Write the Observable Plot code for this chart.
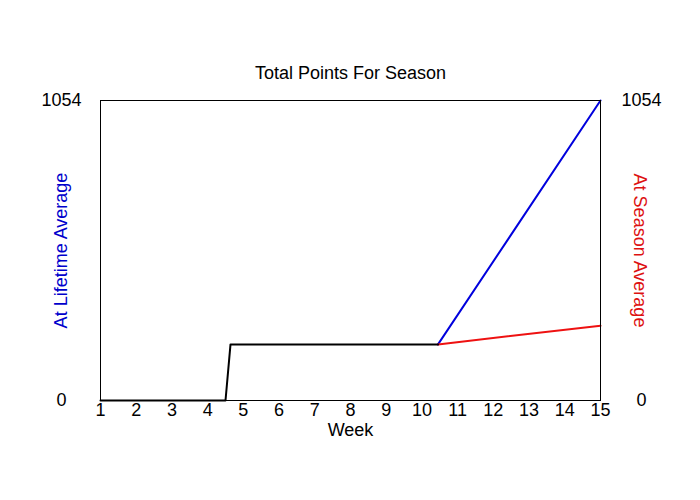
<!DOCTYPE html>
<html>
<head>
<meta charset="utf-8">
<script src="https://cdn.jsdelivr.net/npm/d3@7"></script>
<script src="https://cdn.jsdelivr.net/npm/@observablehq/plot@0.6"></script>
<style>
  html, body { margin: 0; padding: 0; background: white; }
</style>
</head>
<body>
<div id="chart"></div>
<script>
const weeks = [1,2,3,4,5,6,7,8,9,10,11,12,13,14,15];
const yTicks = [0, 1054];
const baseWeek = [1, 4.5, 4.64, 10.45];
const baseTotal = [0, 0, 197, 197];
const lifetimeWeek = [10.45, 15];
const lifetimeTotal = [197, 1054];
const seasonWeek = [10.45, 15];
const seasonTotal = [197, 263];

const base = baseWeek.map((w, i) => ({week: w, total: baseTotal[i]}));
const lifetime = lifetimeWeek.map((w, i) => ({week: w, total: lifetimeTotal[i]}));
const season = seasonWeek.map((w, i) => ({week: w, total: seasonTotal[i]}));

const font = "'Liberation Sans', Arial, sans-serif";
const fs = 18;

const chart = Plot.plot({
  width: 700,
  height: 500,
  marginTop: 100,
  marginBottom: 100,
  marginLeft: 100,
  marginRight: 100,
  style: {fontFamily: font, fontSize: fs + "px", color: "black", background: "white"},
  x: {domain: [1, 15]},
  y: {domain: [0, 1054]},
  marks: [
    Plot.axisX({ticks: weeks, tickSize: 0, tickPadding: 3, fontSize: fs, tickFormat: d => String(d), label: null}),
    Plot.axisY({anchor: "left", ticks: yTicks, tickSize: 0, tickPadding: 0, textAnchor: "middle", dx: -39, fontSize: fs, tickFormat: d => String(d), label: null}),
    Plot.axisY({anchor: "right", ticks: yTicks, tickSize: 0, tickPadding: 0, textAnchor: "middle", dx: 41, fontSize: fs, tickFormat: d => String(d), label: null}),
    Plot.line(lifetime, {x: "week", y: "total", stroke: "#0000dd", strokeWidth: 2}),
    Plot.line(season, {x: "week", y: "total", stroke: "#ee1111", strokeWidth: 2}),
    Plot.line(base, {x: "week", y: "total", stroke: "black", strokeWidth: 2}),
    Plot.frame({stroke: "black", strokeWidth: 1}),
    Plot.text(["Total Points For Season"], {frameAnchor: "top", dy: -34, fontSize: fs, fill: "black"}),
    Plot.text(["Week"], {frameAnchor: "bottom", dy: 35, fontSize: fs, fill: "black"}),
    Plot.text(["At Lifetime Average"], {frameAnchor: "left", dx: -39, rotate: -90, textAnchor: "middle", fontSize: fs, fill: "#0000cc"}),
    Plot.text(["At Season Average"], {frameAnchor: "right", dx: 39, rotate: 90, textAnchor: "middle", fontSize: fs, fill: "#dd1111"})
  ]
});
document.getElementById("chart").appendChild(chart);
</script>
</body>
</html>
